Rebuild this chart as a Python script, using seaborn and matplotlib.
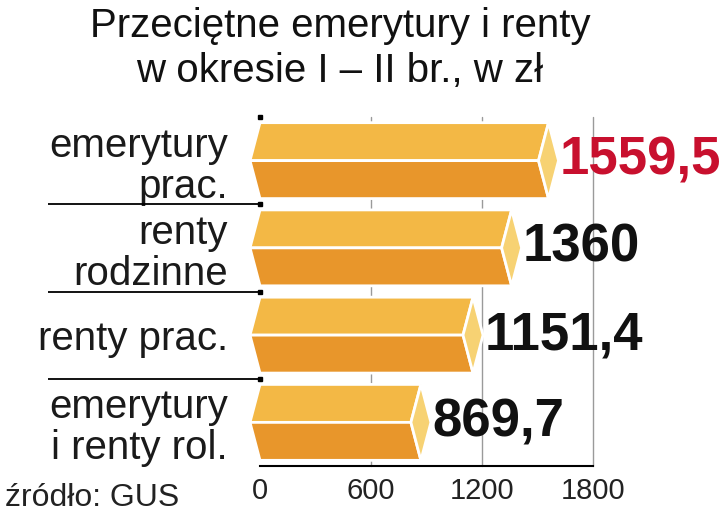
import matplotlib.pyplot as plt
from matplotlib.patches import Polygon
from matplotlib.transforms import blended_transform_factory
import pandas as pd
import seaborn as sns

categories = ['emerytury\nprac.', 'renty\nrodzinne', 'renty prac.', 'emerytury\ni renty rol.']
values = [1559.5, 1360, 1151.4, 869.7]
value_labels = ['1559,5', '1360', '1151,4', '869,7']
label_colors = ['#c8102e', '#111111', '#111111', '#111111']
x_ticks = [0, 600, 1200, 1800]

title_lines = ['Przeciętne emerytury i renty', 'w okresie I – II br., w zł']
source = 'źródło: GUS'

top_color = '#f3b845'
bottom_color = '#e8962b'
cap_color = '#f7d273'

sns.set_theme(style='white')
plt.rcParams['font.family'] = ['Liberation Sans', 'DejaVu Sans']

df = pd.DataFrame({'kategoria': categories, 'wartosc': values})

fig = plt.figure(figsize=(7.2, 5.22), dpi=100)
ax = fig.add_axes([260 / 720, 1 - 466 / 522, 333 / 720, (466 - 117) / 522])

sns.barplot(data=df, x='wartosc', y='kategoria', color=bottom_color, width=0.87, ax=ax)
ax.set_xlim(0, 1800)
ax.set_ylim(len(categories) - 0.5, -0.5)

# depth of the pointed ends, in data units (~10 px)
d = 54

# turn each flat bar into a hexagonal prism
for p, lab, col in zip(ax.patches, value_labels, label_colors):
    w = p.get_width()
    top = p.get_y()
    bot = top + p.get_height()
    mid = (top + bot) / 2
    p.set_visible(False)
    faces = [
        ([(0, top), (w, top), (w - d, mid), (-d, mid)], top_color),
        ([(-d, mid), (w - d, mid), (w, bot), (0, bot)], bottom_color),
        ([(w, top), (w + d, mid), (w, bot), (w - d, mid)], cap_color),
    ]
    for pts, fc in faces:
        ax.add_patch(Polygon(pts, closed=True, facecolor=fc, edgecolor='white',
                             lw=2, joinstyle='miter', clip_on=False, zorder=3))
    ax.annotate(lab, xy=(w + d, mid), xytext=(1, 0), textcoords='offset points',
                ha='left', va='center', fontsize=38, fontweight='bold',
                color=col, annotation_clip=False, zorder=4)

# grid and spines
ax.set_axisbelow(True)
ax.set_xticks(x_ticks)
ax.xaxis.grid(True, color='#9a9a9a', lw=1)
for gl, tick in zip(ax.get_xgridlines(), x_ticks):
    gl.set_clip_on(False)
    if tick == 0:
        gl.set_visible(False)
for side in ['left', 'top', 'right']:
    ax.spines[side].set_visible(False)
ax.spines['bottom'].set_color('black')
ax.spines['bottom'].set_linewidth(1.5)

ax.tick_params(axis='x', length=0, pad=8, labelsize=21, labelcolor='#222222')
ax.tick_params(axis='y', length=0, pad=23, labelsize=29, labelcolor='#1a1a1a')
for t in ax.get_yticklabels():
    t.set_linespacing(1.1)
ax.set_xlabel('')
ax.set_ylabel('')

# separator rules between the categories
trans = blended_transform_factory(ax.transAxes, ax.transData)
seps = [0.5, 1.5, 2.5]
ax.hlines(seps, -0.637, 0, transform=trans, color='black', lw=1.3, clip_on=False)
ax.plot([0] * 4, [-0.5] + seps, 's', ms=3, color='black', transform=trans, clip_on=False)

fig.text(0.472, 1 - 26 / 522, title_lines[0], ha='center', va='center', fontsize=29, color='#111111')
fig.text(0.472, 1 - 71 / 522, title_lines[1], ha='center', va='center', fontsize=29, color='#111111')
fig.text(5 / 720, 1 - 498 / 522, source, ha='left', va='center', fontsize=23, color='#222222')

fig.savefig('out.png', dpi=100)
